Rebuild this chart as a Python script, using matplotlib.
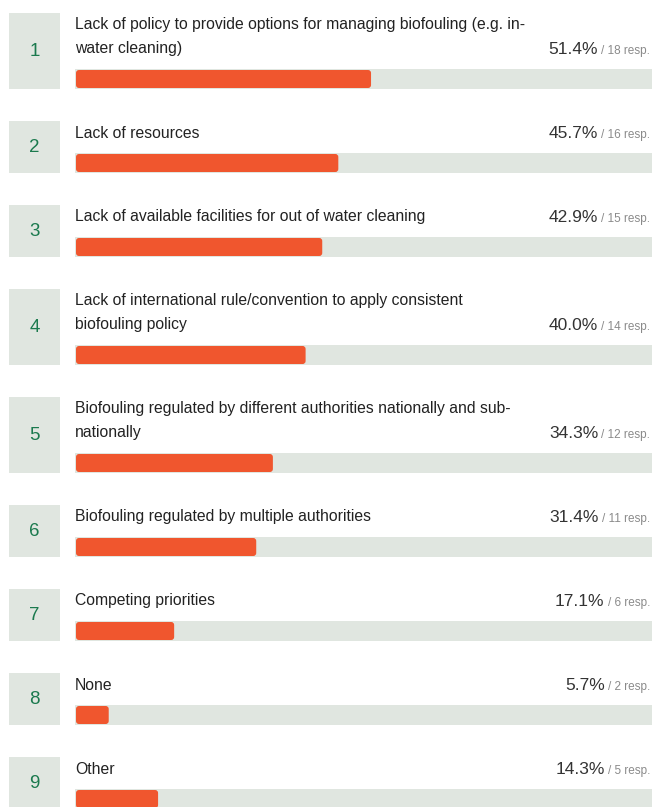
import matplotlib
matplotlib.use("Agg")
import matplotlib.pyplot as plt
from matplotlib.patches import FancyBboxPatch, Rectangle

labels = [
    "Lack of policy to provide options for managing biofouling (e.g. in-\nwater cleaning)",
    "Lack of resources",
    "Lack of available facilities for out of water cleaning",
    "Lack of international rule/convention to apply consistent\nbiofouling policy",
    "Biofouling regulated by different authorities nationally and sub-\nnationally",
    "Biofouling regulated by multiple authorities",
    "Competing priorities",
    "None",
    "Other",
]
percents = [51.4, 45.7, 42.9, 40.0, 34.3, 31.4, 17.1, 5.7, 14.3]
responses = [18, 16, 15, 14, 12, 11, 6, 2, 5]
ranks = [1, 2, 3, 4, 5, 6, 7, 8, 9]

W, H = 652, 807
fig = plt.figure(figsize=(W / 100, H / 100), dpi=100)
ax = fig.add_axes([0, 0, 1, 1])
ax.set_xlim(0, W)
ax.set_ylim(H, 0)
ax.axis("off")

FONT = "Liberation Sans"
BOX_C = "#e0e6e0"
NUM_C = "#1b7a4e"
BAR_C = "#f0562e"

# horizontal scale: 0..100 % maps to x 76..650
x0, x1 = 76, 650
def sx(v):
    return x0 + (x1 - x0) * v / 100.0

fig.canvas.draw()
renderer = fig.canvas.get_renderer()

top = 13
for lab, p, r, k in zip(labels, percents, responses, ranks):
    nlines = lab.count("\n") + 1
    box_h = 52 + 24 * (nlines - 1)
    bottom = top + box_h
    # number box
    ax.add_patch(Rectangle((9, top), 51, box_h, facecolor=BOX_C, edgecolor="none"))
    ax.text(34.5, top + box_h / 2 + 0.5, str(k), ha="center", va="center",
            fontsize=13.5, color=NUM_C, family=FONT)
    # label lines
    for i, line in enumerate(lab.split("\n")):
        ax.text(75, top + 12 + 24 * i, line, ha="left", va="center",
                fontsize=11.3, color="#222222", family=FONT)
    last_y = top + 12 + 24 * (nlines - 1)
    # track
    ax.add_patch(Rectangle((75, bottom - 20), W - 75, 20, facecolor=BOX_C, edgecolor="none"))
    # bar
    ax.add_patch(FancyBboxPatch((x0, bottom - 19), sx(p) - x0, 18,
                                boxstyle="round,pad=0,rounding_size=3",
                                facecolor=BAR_C, edgecolor="none"))
    # percent and responses
    t2 = ax.text(650, last_y + 2, f"/ {r} resp.", ha="right", va="center",
                 fontsize=8.5, color="#8a8a8a", family=FONT)
    bb = t2.get_window_extent(renderer=renderer)
    xl = ax.transData.inverted().transform((bb.x0, 0))[0]
    ax.text(xl - 3, last_y, f"{p:.1f}%", ha="right", va="center",
            fontsize=12.5, color="#333333", family=FONT)
    top = bottom + 32

fig.savefig("out.png", dpi=100)
